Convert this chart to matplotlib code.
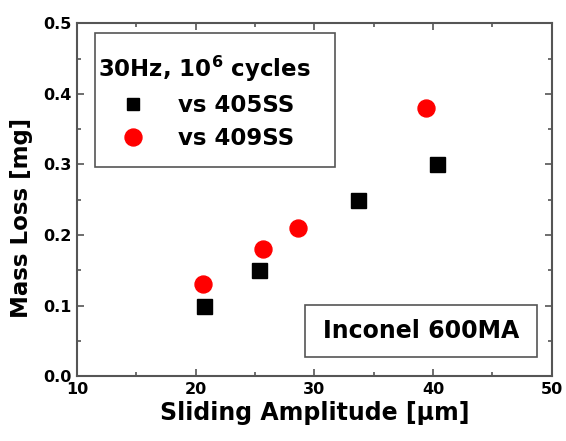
import matplotlib.pyplot as plt
from matplotlib.patches import Rectangle
from matplotlib.ticker import MultipleLocator

# dati
amp_405 = [20.7, 25.3, 33.7, 40.3]
loss_405 = [0.10, 0.15, 0.25, 0.30]
amp_409 = [20.6, 25.7, 28.6, 39.4]
loss_409 = [0.13, 0.18, 0.21, 0.38]

plt.rcParams['font.family'] = 'DejaVu Sans'
plt.rcParams['font.weight'] = 'bold'
grigio = '#555555'

fig = plt.figure(figsize=(5.66, 4.41), dpi=100)
ax = fig.add_axes([0.136, 0.147, 0.839, 0.800])

ax.plot(amp_405, loss_405, 's', color='black', markersize=10.8, linestyle='none', label='vs 405SS')
ax.plot(amp_409, loss_409, 'o', color='red', markersize=12.2, linestyle='none', label='vs 409SS')

ax.set_xlim(10, 50)
ax.set_ylim(0, 0.5)
ax.xaxis.set_major_locator(MultipleLocator(10))
ax.xaxis.set_minor_locator(MultipleLocator(5))
ax.yaxis.set_major_locator(MultipleLocator(0.1))
ax.yaxis.set_minor_locator(MultipleLocator(0.05))
ax.tick_params(which='both', direction='in', top=True, right=True, color=grigio, width=1.2)
ax.tick_params(which='major', length=5, labelsize=11.5, pad=4)
ax.tick_params(which='minor', length=3)
for s in ax.spines.values():
    s.set_color(grigio)
    s.set_linewidth(1.5)

ax.set_xlabel('Sliding Amplitude [\u03bcm]', fontsize=17, fontweight='bold', labelpad=3)
ax.set_ylabel('Mass Loss [mg]', fontsize=16.5, fontweight='bold')
ax.yaxis.set_label_coords(-0.093, 0.448)

# legenda con cornice disegnata a parte
ax.add_patch(Rectangle((0.038, 0.592), 0.505, 0.382, transform=ax.transAxes,
                       facecolor='white', edgecolor=grigio, linewidth=1.2, zorder=4))
leg = ax.legend(title='30Hz, 10$^{\\mathbf{6}}$ cycles', loc='upper left', bbox_to_anchor=(0.044, 0.915),
                fontsize=16.5, title_fontproperties={'size': 16.5, 'weight': 'bold'},
                frameon=False, borderpad=0, borderaxespad=0, handlelength=3.05,
                handletextpad=0.44, labelspacing=0.45)
leg._legend_box.align = 'left'
leg.legend_handles[0].set_markersize(8.6)
leg.legend_handles[1].set_markersize(12.2)
leg.set_zorder(5)

ax.add_patch(Rectangle((0.480, 0.054), 0.488, 0.147, transform=ax.transAxes,
                       facecolor='white', edgecolor=grigio, linewidth=1.2, zorder=4))
ax.text(0.724, 0.127, 'Inconel 600MA', transform=ax.transAxes, fontsize=17, fontweight='bold',
        ha='center', va='center', zorder=5)

fig.savefig('out.png', dpi=100)
